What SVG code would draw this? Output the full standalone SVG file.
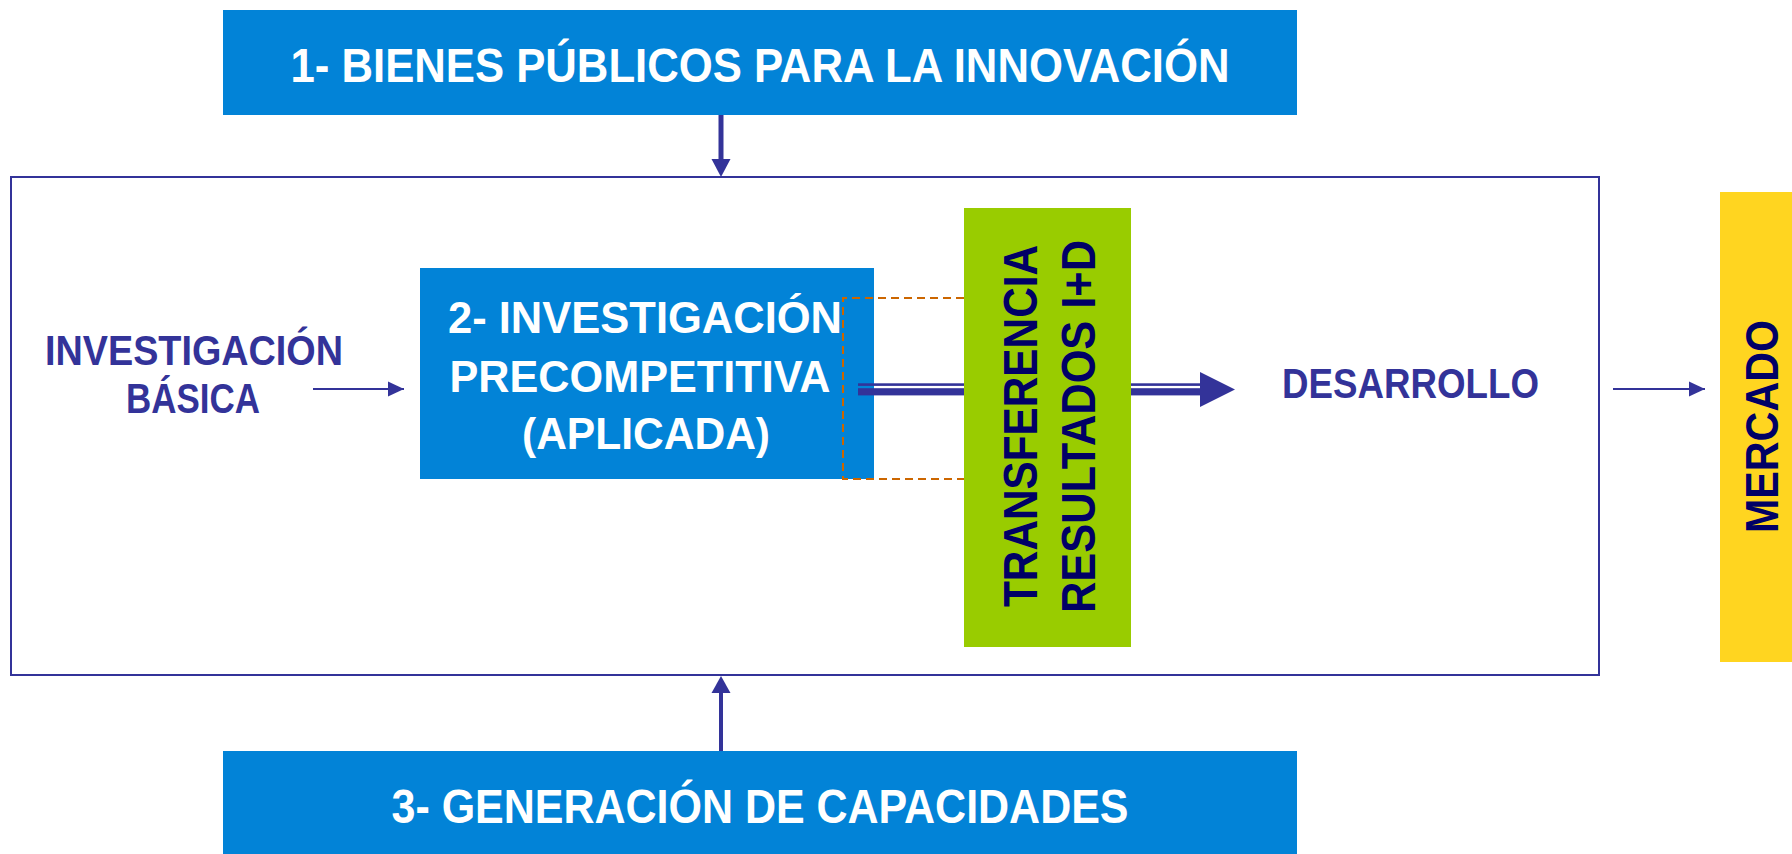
<svg xmlns="http://www.w3.org/2000/svg" width="1792" height="854" viewBox="0 0 1792 854">
<style>
.blue{fill:#0283D7}
.t{font-family:"Liberation Sans",Arial,sans-serif;font-weight:bold}
.w{fill:#FFFFFF}
.p{fill:#333399}
.n{fill:#000066}
.ln{stroke:#333399;fill:none}
</style>
<defs>
<marker id="ah" viewBox="0 0 16 16" refX="16" refY="8" markerWidth="16" markerHeight="16" markerUnits="userSpaceOnUse" orient="auto">
<path d="M0,0.5 L16,8 L0,15.5 Z" fill="#333399"/>
</marker>
</defs>
<rect width="1792" height="854" fill="#FFFFFF"/>
<g id="frame">
<rect x="11" y="177" width="1588" height="498" fill="none" stroke="#333399" stroke-width="2"/>
</g>
<g id="node1">
<rect class="blue" x="223" y="10" width="1074" height="105"/>
<text class="t w" x="760" y="82" font-size="49" text-anchor="middle" textLength="939" lengthAdjust="spacingAndGlyphs">1- BIENES PÚBLICOS PARA LA INNOVACIÓN</text>
</g>
<g id="node3">
<rect class="blue" x="223" y="751" width="1074" height="103"/>
<text class="t w" x="760" y="823" font-size="48" text-anchor="middle" textLength="737" lengthAdjust="spacingAndGlyphs">3- GENERACIÓN DE CAPACIDADES</text>
</g>
<g id="node-basica">
<text class="t p" x="194" y="365" font-size="42" text-anchor="middle" textLength="298" lengthAdjust="spacingAndGlyphs">INVESTIGACIÓN</text>
<text class="t p" x="193" y="413" font-size="42" text-anchor="middle" textLength="134" lengthAdjust="spacingAndGlyphs">BÁSICA</text>
</g>
<g id="node2">
<rect class="blue" x="420" y="268" width="454" height="211"/>
<text class="t w" x="645" y="333" font-size="45" text-anchor="middle" textLength="394" lengthAdjust="spacingAndGlyphs">2- INVESTIGACIÓN</text>
<text class="t w" x="640" y="392" font-size="45" text-anchor="middle" textLength="381" lengthAdjust="spacingAndGlyphs">PRECOMPETITIVA</text>
<text class="t w" x="646" y="449" font-size="45" text-anchor="middle" textLength="248" lengthAdjust="spacingAndGlyphs">(APLICADA)</text>
</g>
<g id="dashed-zone">
<path d="M964,298 H843 V479 H964" fill="none" stroke="#CC6600" stroke-width="2" stroke-dasharray="8 5"/>
</g>
<g id="connectors">
<line class="ln" x1="721" y1="115" x2="721" y2="161" stroke-width="5"/>
<path d="M711.5,159 L730.5,159 L721,177 Z" fill="#333399"/>
<line class="ln" x1="721" y1="751" x2="721" y2="691" stroke-width="4"/>
<path d="M711.5,693 L730.5,693 L721,676 Z" fill="#333399"/>
<line class="ln" x1="313" y1="389" x2="404" y2="389" stroke-width="2" marker-end="url(#ah)"/>
<line class="ln" x1="1613" y1="389" x2="1705" y2="389" stroke-width="2" marker-end="url(#ah)"/>
<rect x="858" y="383.3" width="106" height="2.6" fill="#333399"/>
<rect x="858" y="388.2" width="106" height="7.2" fill="#333399"/>
<rect x="1131" y="383.3" width="70" height="2.6" fill="#333399"/>
<rect x="1131" y="388.2" width="70" height="7.2" fill="#333399"/>
<path d="M1200,372 L1235,389.5 L1200,407 Z" fill="#333399"/>
</g>
<g id="node-transferencia">
<rect x="964" y="208" width="167" height="439" fill="#99CC00"/>
<text class="t n" transform="translate(1037,426) rotate(-90)" x="0" y="0" font-size="48" text-anchor="middle" textLength="362" lengthAdjust="spacingAndGlyphs">TRANSFERENCIA</text>
<text class="t n" transform="translate(1095,426.5) rotate(-90)" x="0" y="0" font-size="48" text-anchor="middle" textLength="373" lengthAdjust="spacingAndGlyphs">RESULTADOS I+D</text>
</g>
<g id="node-desarrollo">
<text class="t p" x="1410.5" y="398" font-size="43" text-anchor="middle" textLength="257" lengthAdjust="spacingAndGlyphs">DESARROLLO</text>
</g>
<g id="node-mercado">
<rect x="1720" y="192" width="72" height="470" fill="#FFD520"/>
<text class="t n" transform="translate(1778,426.5) rotate(-90)" x="0" y="0" font-size="47" text-anchor="middle" textLength="213" lengthAdjust="spacingAndGlyphs">MERCADO</text>
</g>
</svg>
